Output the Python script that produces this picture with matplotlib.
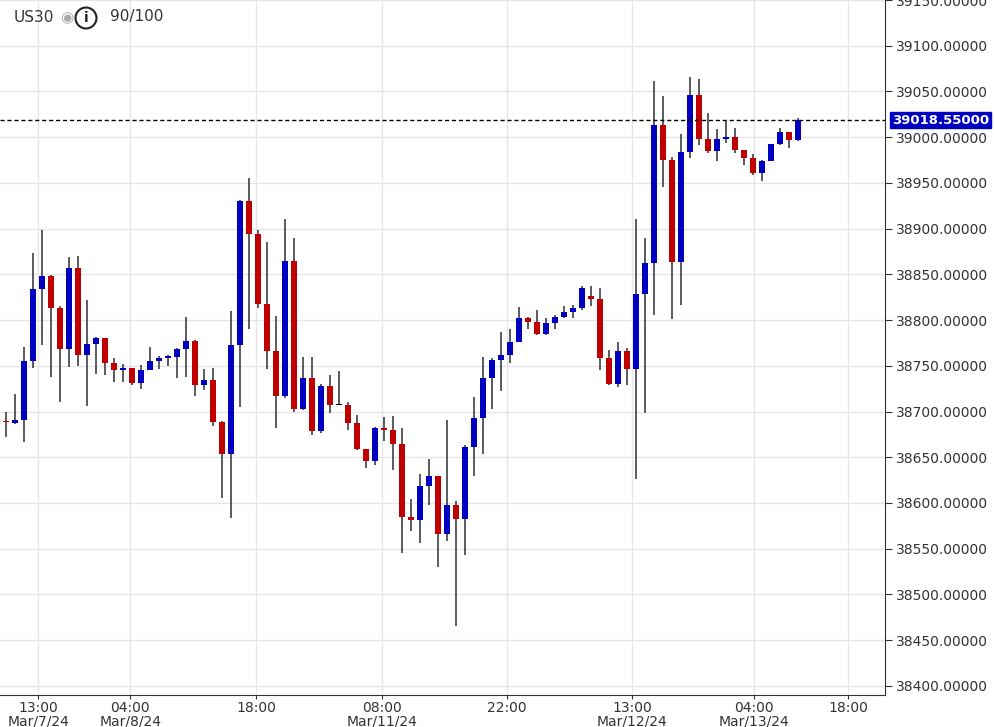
import matplotlib
matplotlib.use("Agg")
import matplotlib.pyplot as plt
import numpy as np

opens = [38690,38687,38691,38755,38834,38848,38813,38768,38857,38762,38774,38780,38753,38745,38748,38731,38745,38755,38759,38760,38768,38777,
         38729,38734,38688,38654,38773,38930,38894,38818,38766,38717,38865,38703,38737,38679,38728,38707,38707,38687,38659,38646,38682,38680,
         38665,38585,38581,38619,38630,38566,38598,38583,38661,38693,38737,38756,38762,38776,38802,38798,38785,38797,38803,38809,38813,
         38826,38823,38758,38730,38766,38747,38829,38862,39013,38975,38864,38984,39046,38998,38985,38998,39000,38986,38977,38961,38974,38992,39006,38997]
closes = [38688,38691,38755,38834,38848,38813,38768,38857,38762,38774,38780,38753,38745,38748,38731,38745,38755,38759,38760,38768,38777,38729,
          38734,38688,38654,38773,38930,38894,38818,38766,38717,38865,38703,38737,38679,38728,38707,38707,38687,38659,38646,38682,38680,38665,
          38585,38581,38619,38630,38566,38598,38583,38661,38693,38737,38756,38762,38776,38802,38798,38785,38797,38803,38809,38813,38835,
          38823,38758,38730,38766,38747,38829,38862,39013,38975,38864,38984,39046,38998,38985,38998,39000,38986,38977,38961,38974,38992,39006,38997,39018.55]
highs = [38700,38719,38771,38873,38898,38849,38815,38869,38870,38822,38782,38780,38759,38752,38748,38751,38771,38761,38762,38769,38803,38778,
         38746,38748,38690,38810,38931,38955,38898,38885,38804,38910,38890,38760,38760,38730,38740,38744,38710,38696,38659,38683,38694,38695,
         38682,38604,38632,38648,38630,38691,38602,38663,38716,38760,38758,38787,38790,38814,38803,38811,38802,38805,38815,38817,38837,
         38837,38835,38767,38776,38769,38910,38890,39061,39045,38978,39004,39066,39064,39026,39009,39018,39010,38986,38982,38975,38992,39010,39006,39021]
lows = [38672,38686,38667,38748,38773,38738,38710,38749,38750,38706,38741,38740,38732,38732,38729,38725,38745,38747,38750,38737,38738,38717,
        38723,38684,38605,38584,38705,38790,38813,38746,38682,38715,38699,38702,38674,38676,38698,38707,38680,38658,38638,38641,38668,38636,
        38545,38569,38556,38598,38530,38558,38465,38543,38629,38654,38703,38722,38753,38776,38790,38784,38784,38790,38802,38802,38811,
        38815,38745,38729,38727,38729,38626,38698,38806,38945,38801,38816,38977,38991,38983,38974,38994,38983,38970,38959,38952,38974,38991,38988,38996]

tick_pos = [3.6, 13.8, 27.8, 41.8, 55.7, 69.6, 83.1, 93.6]
tick_labels = ["13:00\nMar/7/24", "04:00\nMar/8/24", "18:00", "08:00\nMar/11/24", "22:00",
               "13:00\nMar/12/24", "04:00\nMar/13/24", "18:00"]
last_price = 39018.55

BLUE = "#0000c0"
RED = "#c00000"
WICK = "#2b3036"

fig = plt.figure(figsize=(9.95, 7.27), dpi=100)
ax = fig.add_axes([0, 32/727, 885/995, 695/727])
n = len(opens)
x = np.arange(n)
o = np.array(opens); c = np.array(closes); h = np.array(highs); l = np.array(lows)
colors = [BLUE if cc > oo else (RED if cc < oo else "black") for oo, cc in zip(o, c)]
ax.vlines(x, l, h, color=WICK, lw=1.1, zorder=2)
bottoms = np.minimum(o, c)
heights = np.maximum(np.abs(c - o), 1.2)
ax.bar(x, heights, bottom=bottoms, width=0.68, color=colors, zorder=3, linewidth=0)

ax.set_xlim(-0.67, 97.7)
ax.set_ylim(38390, 39137.6)
ax.grid(True, color="#e6e6e6", lw=1, zorder=0)
ax.set_xticks(tick_pos)
ax.set_xticklabels(tick_labels, fontsize=10, color="#333333", linespacing=0.95)
ax.tick_params(axis="x", length=3, color="#333333", pad=1)
ax.yaxis.tick_right()
yt = np.arange(38400, 39151, 50)
ax.set_yticks(yt)
ax.set_yticklabels([f"{v:.5f}" for v in yt], fontsize=10, color="#333333")
ax.tick_params(axis="y", length=5, color="#333333", pad=3)
for s in ["top", "left"]:
    ax.spines[s].set_visible(False)
ax.spines["bottom"].set_color("#333333")
ax.spines["right"].set_color("#333333")

ax.axhline(last_price, color="black", lw=1, ls=(0, (3, 2)), zorder=4)
ax.annotate(f"{last_price:.5f}", xy=(1.0, last_price), xycoords=("axes fraction", "data"),
            xytext=(5, 0), textcoords="offset points", va="center", ha="left",
            fontsize=9.5, color="white", fontweight="bold",
            bbox=dict(boxstyle="square,pad=0.12", fc=BLUE, ec=BLUE))

fig.text(14/995, 1 - 17/727, "US30", fontsize=11, color="#333333", va="center")
fig.text(60/995, 1 - 18/727, "◉", fontsize=11, color="#aaaaaa", va="center")
fig.text(86/995, 1 - 18/727, "i", fontsize=10, color="#222222", va="center", ha="center", fontweight="bold",
         bbox=dict(boxstyle="circle,pad=0.25", fc="white", ec="#222222", lw=1.5))
fig.text(110/995, 1 - 17/727, "90/100", fontsize=11, color="#333333", va="center")

fig.savefig("out.png", dpi=100)
